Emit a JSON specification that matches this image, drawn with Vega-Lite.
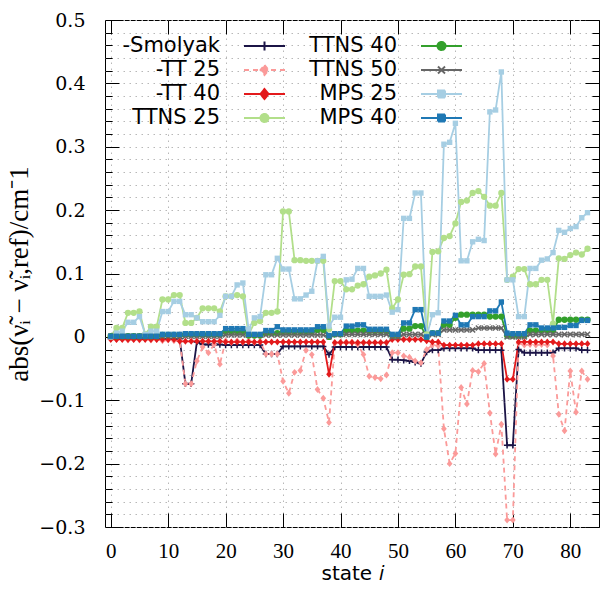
{
  "$schema": "https://vega.github.io/schema/vega-lite/v6.json",
  "width": 494,
  "height": 507,
  "autosize": {"type": "none"},
  "padding": {"left": 105, "top": 20, "right": 1, "bottom": 66},
  "background": "white",
  "config": {
    "view": {"stroke": "black", "strokeWidth": 1},
    "axis": {"domain": false, "labelFont": "Liberation Serif", "labelFontSize": 21, "labelColor": "black", "tickColor": "black", "tickWidth": 1, "gridColor": "#b8b8b8", "gridDash": [1.5, 4.5], "gridWidth": 1, "titleColor": "black", "titleFontWeight": "normal"}
  },
  "data": {"values": [
{"s":"Smolyak","i":0,"v":-0.003},{"s":"Smolyak","i":1,"v":-0.003},{"s":"Smolyak","i":2,"v":-0.003},{"s":"Smolyak","i":3,"v":-0.003},{"s":"Smolyak","i":4,"v":-0.003},{"s":"Smolyak","i":5,"v":-0.003},{"s":"Smolyak","i":6,"v":-0.003},{"s":"Smolyak","i":7,"v":-0.003},{"s":"Smolyak","i":8,"v":-0.003},{"s":"Smolyak","i":9,"v":-0.003},{"s":"Smolyak","i":10,"v":-0.003},{"s":"Smolyak","i":11,"v":-0.003},{"s":"Smolyak","i":12,"v":-0.003},{"s":"Smolyak","i":13,"v":-0.074},{"s":"Smolyak","i":14,"v":-0.074},{"s":"Smolyak","i":15,"v":-0.008},{"s":"Smolyak","i":16,"v":-0.012},{"s":"Smolyak","i":17,"v":-0.012},{"s":"Smolyak","i":18,"v":-0.012},{"s":"Smolyak","i":19,"v":-0.012},{"s":"Smolyak","i":20,"v":-0.013},{"s":"Smolyak","i":21,"v":-0.013},{"s":"Smolyak","i":22,"v":-0.013},{"s":"Smolyak","i":23,"v":-0.013},{"s":"Smolyak","i":24,"v":-0.013},{"s":"Smolyak","i":25,"v":-0.013},{"s":"Smolyak","i":26,"v":-0.013},{"s":"Smolyak","i":27,"v":-0.027},{"s":"Smolyak","i":28,"v":-0.027},{"s":"Smolyak","i":29,"v":-0.027},{"s":"Smolyak","i":30,"v":-0.015},{"s":"Smolyak","i":31,"v":-0.015},{"s":"Smolyak","i":32,"v":-0.015},{"s":"Smolyak","i":33,"v":-0.015},{"s":"Smolyak","i":34,"v":-0.015},{"s":"Smolyak","i":35,"v":-0.015},{"s":"Smolyak","i":36,"v":-0.015},{"s":"Smolyak","i":37,"v":-0.015},{"s":"Smolyak","i":38,"v":-0.028},{"s":"Smolyak","i":39,"v":-0.016},{"s":"Smolyak","i":40,"v":-0.016},{"s":"Smolyak","i":41,"v":-0.016},{"s":"Smolyak","i":42,"v":-0.016},{"s":"Smolyak","i":43,"v":-0.016},{"s":"Smolyak","i":44,"v":-0.016},{"s":"Smolyak","i":45,"v":-0.016},{"s":"Smolyak","i":46,"v":-0.016},{"s":"Smolyak","i":47,"v":-0.016},{"s":"Smolyak","i":48,"v":-0.016},{"s":"Smolyak","i":49,"v":-0.036},{"s":"Smolyak","i":50,"v":-0.036},{"s":"Smolyak","i":51,"v":-0.037},{"s":"Smolyak","i":52,"v":-0.038},{"s":"Smolyak","i":53,"v":-0.04},{"s":"Smolyak","i":54,"v":-0.042},{"s":"Smolyak","i":55,"v":-0.024},{"s":"Smolyak","i":56,"v":-0.021},{"s":"Smolyak","i":57,"v":-0.021},{"s":"Smolyak","i":58,"v":-0.018},{"s":"Smolyak","i":59,"v":-0.018},{"s":"Smolyak","i":60,"v":-0.018},{"s":"Smolyak","i":61,"v":-0.018},{"s":"Smolyak","i":62,"v":-0.018},{"s":"Smolyak","i":63,"v":-0.018},{"s":"Smolyak","i":64,"v":-0.021},{"s":"Smolyak","i":65,"v":-0.021},{"s":"Smolyak","i":66,"v":-0.021},{"s":"Smolyak","i":67,"v":-0.021},{"s":"Smolyak","i":68,"v":-0.021},{"s":"Smolyak","i":69,"v":-0.171},{"s":"Smolyak","i":70,"v":-0.171},{"s":"Smolyak","i":71,"v":-0.02},{"s":"Smolyak","i":72,"v":-0.025},{"s":"Smolyak","i":73,"v":-0.025},{"s":"Smolyak","i":74,"v":-0.025},{"s":"Smolyak","i":75,"v":-0.025},{"s":"Smolyak","i":76,"v":-0.025},{"s":"Smolyak","i":77,"v":-0.025},{"s":"Smolyak","i":78,"v":-0.018},{"s":"Smolyak","i":79,"v":-0.018},{"s":"Smolyak","i":80,"v":-0.018},{"s":"Smolyak","i":81,"v":-0.018},{"s":"Smolyak","i":82,"v":-0.021},{"s":"Smolyak","i":83,"v":-0.021},
{"s":"TT 25","i":0,"v":-0.002},{"s":"TT 25","i":1,"v":-0.004},{"s":"TT 25","i":2,"v":-0.003},{"s":"TT 25","i":3,"v":-0.005},{"s":"TT 25","i":4,"v":-0.004},{"s":"TT 25","i":5,"v":-0.005},{"s":"TT 25","i":6,"v":-0.003},{"s":"TT 25","i":7,"v":-0.005},{"s":"TT 25","i":8,"v":-0.004},{"s":"TT 25","i":9,"v":-0.006},{"s":"TT 25","i":10,"v":-0.005},{"s":"TT 25","i":11,"v":-0.006},{"s":"TT 25","i":12,"v":-0.006},{"s":"TT 25","i":13,"v":-0.074},{"s":"TT 25","i":14,"v":-0.074},{"s":"TT 25","i":15,"v":-0.038},{"s":"TT 25","i":16,"v":-0.016},{"s":"TT 25","i":17,"v":-0.025},{"s":"TT 25","i":18,"v":-0.012},{"s":"TT 25","i":19,"v":-0.043},{"s":"TT 25","i":20,"v":-0.006},{"s":"TT 25","i":21,"v":-0.009},{"s":"TT 25","i":22,"v":-0.006},{"s":"TT 25","i":23,"v":-0.009},{"s":"TT 25","i":24,"v":-0.006},{"s":"TT 25","i":25,"v":-0.009},{"s":"TT 25","i":26,"v":-0.007},{"s":"TT 25","i":27,"v":-0.027},{"s":"TT 25","i":28,"v":-0.027},{"s":"TT 25","i":29,"v":-0.027},{"s":"TT 25","i":30,"v":-0.07},{"s":"TT 25","i":31,"v":-0.089},{"s":"TT 25","i":32,"v":-0.056},{"s":"TT 25","i":33,"v":-0.053},{"s":"TT 25","i":34,"v":-0.021},{"s":"TT 25","i":35,"v":-0.028},{"s":"TT 25","i":36,"v":-0.083},{"s":"TT 25","i":37,"v":-0.097},{"s":"TT 25","i":38,"v":-0.135},{"s":"TT 25","i":39,"v":-0.01},{"s":"TT 25","i":40,"v":-0.008},{"s":"TT 25","i":41,"v":-0.008},{"s":"TT 25","i":42,"v":-0.008},{"s":"TT 25","i":43,"v":-0.012},{"s":"TT 25","i":44,"v":-0.028},{"s":"TT 25","i":45,"v":-0.062},{"s":"TT 25","i":46,"v":-0.064},{"s":"TT 25","i":47,"v":-0.066},{"s":"TT 25","i":48,"v":-0.06},{"s":"TT 25","i":49,"v":-0.025},{"s":"TT 25","i":50,"v":-0.025},{"s":"TT 25","i":51,"v":-0.03},{"s":"TT 25","i":52,"v":-0.032},{"s":"TT 25","i":53,"v":-0.038},{"s":"TT 25","i":54,"v":-0.041},{"s":"TT 25","i":55,"v":-0.02},{"s":"TT 25","i":56,"v":-0.013},{"s":"TT 25","i":57,"v":-0.014},{"s":"TT 25","i":58,"v":-0.145},{"s":"TT 25","i":59,"v":-0.2},{"s":"TT 25","i":60,"v":-0.184},{"s":"TT 25","i":61,"v":-0.08},{"s":"TT 25","i":62,"v":-0.106},{"s":"TT 25","i":63,"v":-0.053},{"s":"TT 25","i":64,"v":-0.055},{"s":"TT 25","i":65,"v":-0.042},{"s":"TT 25","i":66,"v":-0.12},{"s":"TT 25","i":67,"v":-0.185},{"s":"TT 25","i":68,"v":-0.138},{"s":"TT 25","i":69,"v":-0.289},{"s":"TT 25","i":70,"v":-0.289},{"s":"TT 25","i":71,"v":-0.01},{"s":"TT 25","i":72,"v":-0.013},{"s":"TT 25","i":73,"v":-0.012},{"s":"TT 25","i":74,"v":-0.013},{"s":"TT 25","i":75,"v":-0.012},{"s":"TT 25","i":76,"v":-0.013},{"s":"TT 25","i":77,"v":-0.03},{"s":"TT 25","i":78,"v":-0.122},{"s":"TT 25","i":79,"v":-0.148},{"s":"TT 25","i":80,"v":-0.054},{"s":"TT 25","i":81,"v":-0.119},{"s":"TT 25","i":82,"v":-0.054},{"s":"TT 25","i":83,"v":-0.067},
{"s":"TT 40","i":0,"v":-0.004},{"s":"TT 40","i":1,"v":-0.004},{"s":"TT 40","i":2,"v":-0.004},{"s":"TT 40","i":3,"v":-0.004},{"s":"TT 40","i":4,"v":-0.004},{"s":"TT 40","i":5,"v":-0.004},{"s":"TT 40","i":6,"v":-0.004},{"s":"TT 40","i":7,"v":-0.004},{"s":"TT 40","i":8,"v":-0.004},{"s":"TT 40","i":9,"v":-0.004},{"s":"TT 40","i":10,"v":-0.004},{"s":"TT 40","i":11,"v":-0.004},{"s":"TT 40","i":12,"v":-0.007},{"s":"TT 40","i":13,"v":-0.007},{"s":"TT 40","i":14,"v":-0.007},{"s":"TT 40","i":15,"v":-0.007},{"s":"TT 40","i":16,"v":-0.007},{"s":"TT 40","i":17,"v":-0.007},{"s":"TT 40","i":18,"v":-0.007},{"s":"TT 40","i":19,"v":-0.007},{"s":"TT 40","i":20,"v":-0.008},{"s":"TT 40","i":21,"v":-0.008},{"s":"TT 40","i":22,"v":-0.008},{"s":"TT 40","i":23,"v":-0.008},{"s":"TT 40","i":24,"v":-0.008},{"s":"TT 40","i":25,"v":-0.008},{"s":"TT 40","i":26,"v":-0.008},{"s":"TT 40","i":27,"v":-0.008},{"s":"TT 40","i":28,"v":-0.008},{"s":"TT 40","i":29,"v":-0.008},{"s":"TT 40","i":30,"v":-0.008},{"s":"TT 40","i":31,"v":-0.008},{"s":"TT 40","i":32,"v":-0.008},{"s":"TT 40","i":33,"v":-0.008},{"s":"TT 40","i":34,"v":-0.008},{"s":"TT 40","i":35,"v":-0.008},{"s":"TT 40","i":36,"v":-0.008},{"s":"TT 40","i":37,"v":-0.008},{"s":"TT 40","i":38,"v":-0.059},{"s":"TT 40","i":39,"v":-0.009},{"s":"TT 40","i":40,"v":-0.009},{"s":"TT 40","i":41,"v":-0.009},{"s":"TT 40","i":42,"v":-0.009},{"s":"TT 40","i":43,"v":-0.009},{"s":"TT 40","i":44,"v":-0.009},{"s":"TT 40","i":45,"v":-0.009},{"s":"TT 40","i":46,"v":-0.009},{"s":"TT 40","i":47,"v":-0.009},{"s":"TT 40","i":48,"v":-0.009},{"s":"TT 40","i":49,"v":-0.004},{"s":"TT 40","i":50,"v":-0.004},{"s":"TT 40","i":51,"v":-0.004},{"s":"TT 40","i":52,"v":-0.004},{"s":"TT 40","i":53,"v":-0.004},{"s":"TT 40","i":54,"v":-0.004},{"s":"TT 40","i":55,"v":-0.006},{"s":"TT 40","i":56,"v":-0.008},{"s":"TT 40","i":57,"v":-0.008},{"s":"TT 40","i":58,"v":-0.013},{"s":"TT 40","i":59,"v":-0.013},{"s":"TT 40","i":60,"v":-0.013},{"s":"TT 40","i":61,"v":-0.013},{"s":"TT 40","i":62,"v":-0.013},{"s":"TT 40","i":63,"v":-0.013},{"s":"TT 40","i":64,"v":-0.011},{"s":"TT 40","i":65,"v":-0.011},{"s":"TT 40","i":66,"v":-0.011},{"s":"TT 40","i":67,"v":-0.011},{"s":"TT 40","i":68,"v":-0.011},{"s":"TT 40","i":69,"v":-0.067},{"s":"TT 40","i":70,"v":-0.067},{"s":"TT 40","i":71,"v":-0.008},{"s":"TT 40","i":72,"v":-0.008},{"s":"TT 40","i":73,"v":-0.008},{"s":"TT 40","i":74,"v":-0.008},{"s":"TT 40","i":75,"v":-0.008},{"s":"TT 40","i":76,"v":-0.008},{"s":"TT 40","i":77,"v":-0.008},{"s":"TT 40","i":78,"v":-0.011},{"s":"TT 40","i":79,"v":-0.011},{"s":"TT 40","i":80,"v":-0.011},{"s":"TT 40","i":81,"v":-0.011},{"s":"TT 40","i":82,"v":-0.011},{"s":"TT 40","i":83,"v":-0.011},
{"s":"TTNS 25","i":0,"v":0.001},{"s":"TTNS 25","i":1,"v":0.014},{"s":"TTNS 25","i":2,"v":0.014},{"s":"TTNS 25","i":3,"v":0.038},{"s":"TTNS 25","i":4,"v":0.038},{"s":"TTNS 25","i":5,"v":0.04},{"s":"TTNS 25","i":6,"v":0.004},{"s":"TTNS 25","i":7,"v":0.016},{"s":"TTNS 25","i":8,"v":0.016},{"s":"TTNS 25","i":9,"v":0.059},{"s":"TTNS 25","i":10,"v":0.059},{"s":"TTNS 25","i":11,"v":0.066},{"s":"TTNS 25","i":12,"v":0.066},{"s":"TTNS 25","i":13,"v":0.022},{"s":"TTNS 25","i":14,"v":0.022},{"s":"TTNS 25","i":15,"v":0.03},{"s":"TTNS 25","i":16,"v":0.045},{"s":"TTNS 25","i":17,"v":0.045},{"s":"TTNS 25","i":18,"v":0.045},{"s":"TTNS 25","i":19,"v":0.04},{"s":"TTNS 25","i":20,"v":0.064},{"s":"TTNS 25","i":21,"v":0.064},{"s":"TTNS 25","i":22,"v":0.066},{"s":"TTNS 25","i":23,"v":0.064},{"s":"TTNS 25","i":24,"v":0.004},{"s":"TTNS 25","i":25,"v":0.022},{"s":"TTNS 25","i":26,"v":0.025},{"s":"TTNS 25","i":27,"v":0.038},{"s":"TTNS 25","i":28,"v":0.038},{"s":"TTNS 25","i":29,"v":0.04},{"s":"TTNS 25","i":30,"v":0.198},{"s":"TTNS 25","i":31,"v":0.198},{"s":"TTNS 25","i":32,"v":0.121},{"s":"TTNS 25","i":33,"v":0.121},{"s":"TTNS 25","i":34,"v":0.12},{"s":"TTNS 25","i":35,"v":0.12},{"s":"TTNS 25","i":36,"v":0.12},{"s":"TTNS 25","i":37,"v":0.12},{"s":"TTNS 25","i":38,"v":0.012},{"s":"TTNS 25","i":39,"v":0.088},{"s":"TTNS 25","i":40,"v":0.088},{"s":"TTNS 25","i":41,"v":0.075},{"s":"TTNS 25","i":42,"v":0.075},{"s":"TTNS 25","i":43,"v":0.081},{"s":"TTNS 25","i":44,"v":0.083},{"s":"TTNS 25","i":45,"v":0.095},{"s":"TTNS 25","i":46,"v":0.097},{"s":"TTNS 25","i":47,"v":0.1},{"s":"TTNS 25","i":48,"v":0.106},{"s":"TTNS 25","i":49,"v":0.045},{"s":"TTNS 25","i":50,"v":0.059},{"s":"TTNS 25","i":51,"v":0.098},{"s":"TTNS 25","i":52,"v":0.099},{"s":"TTNS 25","i":53,"v":0.111},{"s":"TTNS 25","i":54,"v":0.111},{"s":"TTNS 25","i":55,"v":0.004},{"s":"TTNS 25","i":56,"v":0.134},{"s":"TTNS 25","i":57,"v":0.135},{"s":"TTNS 25","i":58,"v":0.156},{"s":"TTNS 25","i":59,"v":0.159},{"s":"TTNS 25","i":60,"v":0.179},{"s":"TTNS 25","i":61,"v":0.213},{"s":"TTNS 25","i":62,"v":0.215},{"s":"TTNS 25","i":63,"v":0.227},{"s":"TTNS 25","i":64,"v":0.23},{"s":"TTNS 25","i":65,"v":0.221},{"s":"TTNS 25","i":66,"v":0.207},{"s":"TTNS 25","i":67,"v":0.207},{"s":"TTNS 25","i":68,"v":0.227},{"s":"TTNS 25","i":69,"v":0.09},{"s":"TTNS 25","i":70,"v":0.095},{"s":"TTNS 25","i":71,"v":0.107},{"s":"TTNS 25","i":72,"v":0.107},{"s":"TTNS 25","i":73,"v":0.083},{"s":"TTNS 25","i":74,"v":0.083},{"s":"TTNS 25","i":75,"v":0.09},{"s":"TTNS 25","i":76,"v":0.09},{"s":"TTNS 25","i":77,"v":0.021},{"s":"TTNS 25","i":78,"v":0.124},{"s":"TTNS 25","i":79,"v":0.123},{"s":"TTNS 25","i":80,"v":0.129},{"s":"TTNS 25","i":81,"v":0.133},{"s":"TTNS 25","i":82,"v":0.13},{"s":"TTNS 25","i":83,"v":0.139},
{"s":"TTNS 40","i":0,"v":0.001},{"s":"TTNS 40","i":1,"v":0.001},{"s":"TTNS 40","i":2,"v":0.001},{"s":"TTNS 40","i":3,"v":0.001},{"s":"TTNS 40","i":4,"v":0.001},{"s":"TTNS 40","i":5,"v":0.001},{"s":"TTNS 40","i":6,"v":0.001},{"s":"TTNS 40","i":7,"v":0.001},{"s":"TTNS 40","i":8,"v":0.001},{"s":"TTNS 40","i":9,"v":0.003},{"s":"TTNS 40","i":10,"v":0.003},{"s":"TTNS 40","i":11,"v":0.003},{"s":"TTNS 40","i":12,"v":0.003},{"s":"TTNS 40","i":13,"v":0.004},{"s":"TTNS 40","i":14,"v":0.004},{"s":"TTNS 40","i":15,"v":0.004},{"s":"TTNS 40","i":16,"v":0.004},{"s":"TTNS 40","i":17,"v":0.004},{"s":"TTNS 40","i":18,"v":0.004},{"s":"TTNS 40","i":19,"v":0.004},{"s":"TTNS 40","i":20,"v":0.008},{"s":"TTNS 40","i":21,"v":0.008},{"s":"TTNS 40","i":22,"v":0.008},{"s":"TTNS 40","i":23,"v":0.008},{"s":"TTNS 40","i":24,"v":0.002},{"s":"TTNS 40","i":25,"v":0.002},{"s":"TTNS 40","i":26,"v":0.002},{"s":"TTNS 40","i":27,"v":0.006},{"s":"TTNS 40","i":28,"v":0.006},{"s":"TTNS 40","i":29,"v":0.006},{"s":"TTNS 40","i":30,"v":0.008},{"s":"TTNS 40","i":31,"v":0.008},{"s":"TTNS 40","i":32,"v":0.008},{"s":"TTNS 40","i":33,"v":0.008},{"s":"TTNS 40","i":34,"v":0.008},{"s":"TTNS 40","i":35,"v":0.008},{"s":"TTNS 40","i":36,"v":0.011},{"s":"TTNS 40","i":37,"v":0.011},{"s":"TTNS 40","i":38,"v":0.0},{"s":"TTNS 40","i":39,"v":0.004},{"s":"TTNS 40","i":40,"v":0.004},{"s":"TTNS 40","i":41,"v":0.01},{"s":"TTNS 40","i":42,"v":0.01},{"s":"TTNS 40","i":43,"v":0.01},{"s":"TTNS 40","i":44,"v":0.01},{"s":"TTNS 40","i":45,"v":0.009},{"s":"TTNS 40","i":46,"v":0.009},{"s":"TTNS 40","i":47,"v":0.009},{"s":"TTNS 40","i":48,"v":0.009},{"s":"TTNS 40","i":49,"v":0.002},{"s":"TTNS 40","i":50,"v":0.002},{"s":"TTNS 40","i":51,"v":0.013},{"s":"TTNS 40","i":52,"v":0.013},{"s":"TTNS 40","i":53,"v":0.017},{"s":"TTNS 40","i":54,"v":0.017},{"s":"TTNS 40","i":55,"v":0.0},{"s":"TTNS 40","i":56,"v":0.006},{"s":"TTNS 40","i":57,"v":0.006},{"s":"TTNS 40","i":58,"v":0.019},{"s":"TTNS 40","i":59,"v":0.019},{"s":"TTNS 40","i":60,"v":0.03},{"s":"TTNS 40","i":61,"v":0.035},{"s":"TTNS 40","i":62,"v":0.035},{"s":"TTNS 40","i":63,"v":0.035},{"s":"TTNS 40","i":64,"v":0.035},{"s":"TTNS 40","i":65,"v":0.035},{"s":"TTNS 40","i":66,"v":0.032},{"s":"TTNS 40","i":67,"v":0.032},{"s":"TTNS 40","i":68,"v":0.032},{"s":"TTNS 40","i":69,"v":0.002},{"s":"TTNS 40","i":70,"v":0.002},{"s":"TTNS 40","i":71,"v":0.002},{"s":"TTNS 40","i":72,"v":0.002},{"s":"TTNS 40","i":73,"v":0.01},{"s":"TTNS 40","i":74,"v":0.01},{"s":"TTNS 40","i":75,"v":0.01},{"s":"TTNS 40","i":76,"v":0.01},{"s":"TTNS 40","i":77,"v":0.01},{"s":"TTNS 40","i":78,"v":0.027},{"s":"TTNS 40","i":79,"v":0.027},{"s":"TTNS 40","i":80,"v":0.027},{"s":"TTNS 40","i":81,"v":0.027},{"s":"TTNS 40","i":82,"v":0.027},{"s":"TTNS 40","i":83,"v":0.027},
{"s":"TTNS 50","i":0,"v":0.001},{"s":"TTNS 50","i":1,"v":0.001},{"s":"TTNS 50","i":2,"v":0.001},{"s":"TTNS 50","i":3,"v":0.001},{"s":"TTNS 50","i":4,"v":0.001},{"s":"TTNS 50","i":5,"v":0.001},{"s":"TTNS 50","i":6,"v":0.001},{"s":"TTNS 50","i":7,"v":0.001},{"s":"TTNS 50","i":8,"v":0.001},{"s":"TTNS 50","i":9,"v":0.001},{"s":"TTNS 50","i":10,"v":0.001},{"s":"TTNS 50","i":11,"v":0.001},{"s":"TTNS 50","i":12,"v":0.001},{"s":"TTNS 50","i":13,"v":0.001},{"s":"TTNS 50","i":14,"v":0.001},{"s":"TTNS 50","i":15,"v":0.001},{"s":"TTNS 50","i":16,"v":0.001},{"s":"TTNS 50","i":17,"v":0.001},{"s":"TTNS 50","i":18,"v":0.001},{"s":"TTNS 50","i":19,"v":0.001},{"s":"TTNS 50","i":20,"v":0.003},{"s":"TTNS 50","i":21,"v":0.003},{"s":"TTNS 50","i":22,"v":0.003},{"s":"TTNS 50","i":23,"v":0.003},{"s":"TTNS 50","i":24,"v":0.003},{"s":"TTNS 50","i":25,"v":0.003},{"s":"TTNS 50","i":26,"v":0.003},{"s":"TTNS 50","i":27,"v":0.003},{"s":"TTNS 50","i":28,"v":0.003},{"s":"TTNS 50","i":29,"v":0.003},{"s":"TTNS 50","i":30,"v":0.003},{"s":"TTNS 50","i":31,"v":0.003},{"s":"TTNS 50","i":32,"v":0.003},{"s":"TTNS 50","i":33,"v":0.003},{"s":"TTNS 50","i":34,"v":0.003},{"s":"TTNS 50","i":35,"v":0.003},{"s":"TTNS 50","i":36,"v":0.003},{"s":"TTNS 50","i":37,"v":0.003},{"s":"TTNS 50","i":38,"v":0.0},{"s":"TTNS 50","i":39,"v":0.004},{"s":"TTNS 50","i":40,"v":0.004},{"s":"TTNS 50","i":41,"v":0.004},{"s":"TTNS 50","i":42,"v":0.004},{"s":"TTNS 50","i":43,"v":0.004},{"s":"TTNS 50","i":44,"v":0.004},{"s":"TTNS 50","i":45,"v":0.004},{"s":"TTNS 50","i":46,"v":0.004},{"s":"TTNS 50","i":47,"v":0.004},{"s":"TTNS 50","i":48,"v":0.004},{"s":"TTNS 50","i":49,"v":0.0},{"s":"TTNS 50","i":50,"v":0.0},{"s":"TTNS 50","i":51,"v":0.004},{"s":"TTNS 50","i":52,"v":0.004},{"s":"TTNS 50","i":53,"v":0.004},{"s":"TTNS 50","i":54,"v":0.004},{"s":"TTNS 50","i":55,"v":0.0},{"s":"TTNS 50","i":56,"v":0.004},{"s":"TTNS 50","i":57,"v":0.004},{"s":"TTNS 50","i":58,"v":0.011},{"s":"TTNS 50","i":59,"v":0.011},{"s":"TTNS 50","i":60,"v":0.011},{"s":"TTNS 50","i":61,"v":0.011},{"s":"TTNS 50","i":62,"v":0.011},{"s":"TTNS 50","i":63,"v":0.011},{"s":"TTNS 50","i":64,"v":0.014},{"s":"TTNS 50","i":65,"v":0.014},{"s":"TTNS 50","i":66,"v":0.014},{"s":"TTNS 50","i":67,"v":0.014},{"s":"TTNS 50","i":68,"v":0.014},{"s":"TTNS 50","i":69,"v":0.0},{"s":"TTNS 50","i":70,"v":0.0},{"s":"TTNS 50","i":71,"v":0.0},{"s":"TTNS 50","i":72,"v":0.0},{"s":"TTNS 50","i":73,"v":0.004},{"s":"TTNS 50","i":74,"v":0.004},{"s":"TTNS 50","i":75,"v":0.004},{"s":"TTNS 50","i":76,"v":0.004},{"s":"TTNS 50","i":77,"v":0.004},{"s":"TTNS 50","i":78,"v":0.004},{"s":"TTNS 50","i":79,"v":0.004},{"s":"TTNS 50","i":80,"v":0.004},{"s":"TTNS 50","i":81,"v":0.004},{"s":"TTNS 50","i":82,"v":0.004},{"s":"TTNS 50","i":83,"v":0.004},
{"s":"MPS 25","i":0,"v":0.0},{"s":"MPS 25","i":1,"v":0.006},{"s":"MPS 25","i":2,"v":0.009},{"s":"MPS 25","i":3,"v":0.023},{"s":"MPS 25","i":4,"v":0.023},{"s":"MPS 25","i":5,"v":0.032},{"s":"MPS 25","i":6,"v":0.004},{"s":"MPS 25","i":7,"v":0.009},{"s":"MPS 25","i":8,"v":0.009},{"s":"MPS 25","i":9,"v":0.04},{"s":"MPS 25","i":10,"v":0.04},{"s":"MPS 25","i":11,"v":0.056},{"s":"MPS 25","i":12,"v":0.056},{"s":"MPS 25","i":13,"v":0.035},{"s":"MPS 25","i":14,"v":0.035},{"s":"MPS 25","i":15,"v":0.03},{"s":"MPS 25","i":16,"v":0.024},{"s":"MPS 25","i":17,"v":0.024},{"s":"MPS 25","i":18,"v":0.024},{"s":"MPS 25","i":19,"v":0.034},{"s":"MPS 25","i":20,"v":0.064},{"s":"MPS 25","i":21,"v":0.064},{"s":"MPS 25","i":22,"v":0.082},{"s":"MPS 25","i":23,"v":0.085},{"s":"MPS 25","i":24,"v":0.012},{"s":"MPS 25","i":25,"v":0.03},{"s":"MPS 25","i":26,"v":0.032},{"s":"MPS 25","i":27,"v":0.098},{"s":"MPS 25","i":28,"v":0.098},{"s":"MPS 25","i":29,"v":0.124},{"s":"MPS 25","i":30,"v":0.107},{"s":"MPS 25","i":31,"v":0.107},{"s":"MPS 25","i":32,"v":0.06},{"s":"MPS 25","i":33,"v":0.06},{"s":"MPS 25","i":34,"v":0.066},{"s":"MPS 25","i":35,"v":0.072},{"s":"MPS 25","i":36,"v":0.12},{"s":"MPS 25","i":37,"v":0.127},{"s":"MPS 25","i":38,"v":0.017},{"s":"MPS 25","i":39,"v":0.031},{"s":"MPS 25","i":40,"v":0.031},{"s":"MPS 25","i":41,"v":0.09},{"s":"MPS 25","i":42,"v":0.091},{"s":"MPS 25","i":43,"v":0.108},{"s":"MPS 25","i":44,"v":0.108},{"s":"MPS 25","i":45,"v":0.064},{"s":"MPS 25","i":46,"v":0.064},{"s":"MPS 25","i":47,"v":0.064},{"s":"MPS 25","i":48,"v":0.066},{"s":"MPS 25","i":49,"v":0.039},{"s":"MPS 25","i":50,"v":0.043},{"s":"MPS 25","i":51,"v":0.187},{"s":"MPS 25","i":52,"v":0.187},{"s":"MPS 25","i":53,"v":0.227},{"s":"MPS 25","i":54,"v":0.227},{"s":"MPS 25","i":55,"v":0.001},{"s":"MPS 25","i":56,"v":0.035},{"s":"MPS 25","i":57,"v":0.038},{"s":"MPS 25","i":58,"v":0.304},{"s":"MPS 25","i":59,"v":0.307},{"s":"MPS 25","i":60,"v":0.337},{"s":"MPS 25","i":61,"v":0.12},{"s":"MPS 25","i":62,"v":0.12},{"s":"MPS 25","i":63,"v":0.15},{"s":"MPS 25","i":64,"v":0.154},{"s":"MPS 25","i":65,"v":0.152},{"s":"MPS 25","i":66,"v":0.355},{"s":"MPS 25","i":67,"v":0.358},{"s":"MPS 25","i":68,"v":0.418},{"s":"MPS 25","i":69,"v":0.09},{"s":"MPS 25","i":70,"v":0.09},{"s":"MPS 25","i":71,"v":0.032},{"s":"MPS 25","i":72,"v":0.032},{"s":"MPS 25","i":73,"v":0.108},{"s":"MPS 25","i":74,"v":0.108},{"s":"MPS 25","i":75,"v":0.121},{"s":"MPS 25","i":76,"v":0.123},{"s":"MPS 25","i":77,"v":0.133},{"s":"MPS 25","i":78,"v":0.168},{"s":"MPS 25","i":79,"v":0.165},{"s":"MPS 25","i":80,"v":0.171},{"s":"MPS 25","i":81,"v":0.174},{"s":"MPS 25","i":82,"v":0.188},{"s":"MPS 25","i":83,"v":0.196},
{"s":"MPS 40","i":0,"v":0.001},{"s":"MPS 40","i":1,"v":0.001},{"s":"MPS 40","i":2,"v":0.001},{"s":"MPS 40","i":3,"v":0.001},{"s":"MPS 40","i":4,"v":0.001},{"s":"MPS 40","i":5,"v":0.001},{"s":"MPS 40","i":6,"v":0.001},{"s":"MPS 40","i":7,"v":0.001},{"s":"MPS 40","i":8,"v":0.001},{"s":"MPS 40","i":9,"v":0.004},{"s":"MPS 40","i":10,"v":0.004},{"s":"MPS 40","i":11,"v":0.004},{"s":"MPS 40","i":12,"v":0.004},{"s":"MPS 40","i":13,"v":0.005},{"s":"MPS 40","i":14,"v":0.005},{"s":"MPS 40","i":15,"v":0.005},{"s":"MPS 40","i":16,"v":0.005},{"s":"MPS 40","i":17,"v":0.005},{"s":"MPS 40","i":18,"v":0.005},{"s":"MPS 40","i":19,"v":0.005},{"s":"MPS 40","i":20,"v":0.013},{"s":"MPS 40","i":21,"v":0.013},{"s":"MPS 40","i":22,"v":0.013},{"s":"MPS 40","i":23,"v":0.013},{"s":"MPS 40","i":24,"v":0.004},{"s":"MPS 40","i":25,"v":0.004},{"s":"MPS 40","i":26,"v":0.004},{"s":"MPS 40","i":27,"v":0.01},{"s":"MPS 40","i":28,"v":0.01},{"s":"MPS 40","i":29,"v":0.016},{"s":"MPS 40","i":30,"v":0.011},{"s":"MPS 40","i":31,"v":0.011},{"s":"MPS 40","i":32,"v":0.011},{"s":"MPS 40","i":33,"v":0.011},{"s":"MPS 40","i":34,"v":0.011},{"s":"MPS 40","i":35,"v":0.011},{"s":"MPS 40","i":36,"v":0.016},{"s":"MPS 40","i":37,"v":0.016},{"s":"MPS 40","i":38,"v":0.002},{"s":"MPS 40","i":39,"v":0.005},{"s":"MPS 40","i":40,"v":0.005},{"s":"MPS 40","i":41,"v":0.017},{"s":"MPS 40","i":42,"v":0.017},{"s":"MPS 40","i":43,"v":0.019},{"s":"MPS 40","i":44,"v":0.019},{"s":"MPS 40","i":45,"v":0.012},{"s":"MPS 40","i":46,"v":0.012},{"s":"MPS 40","i":47,"v":0.012},{"s":"MPS 40","i":48,"v":0.012},{"s":"MPS 40","i":49,"v":0.004},{"s":"MPS 40","i":50,"v":0.004},{"s":"MPS 40","i":51,"v":0.022},{"s":"MPS 40","i":52,"v":0.022},{"s":"MPS 40","i":53,"v":0.043},{"s":"MPS 40","i":54,"v":0.043},{"s":"MPS 40","i":55,"v":0.0},{"s":"MPS 40","i":56,"v":0.006},{"s":"MPS 40","i":57,"v":0.006},{"s":"MPS 40","i":58,"v":0.025},{"s":"MPS 40","i":59,"v":0.025},{"s":"MPS 40","i":60,"v":0.034},{"s":"MPS 40","i":61,"v":0.019},{"s":"MPS 40","i":62,"v":0.019},{"s":"MPS 40","i":63,"v":0.032},{"s":"MPS 40","i":64,"v":0.032},{"s":"MPS 40","i":65,"v":0.032},{"s":"MPS 40","i":66,"v":0.041},{"s":"MPS 40","i":67,"v":0.041},{"s":"MPS 40","i":68,"v":0.055},{"s":"MPS 40","i":69,"v":0.006},{"s":"MPS 40","i":70,"v":0.005},{"s":"MPS 40","i":71,"v":0.005},{"s":"MPS 40","i":72,"v":0.005},{"s":"MPS 40","i":73,"v":0.019},{"s":"MPS 40","i":74,"v":0.019},{"s":"MPS 40","i":75,"v":0.014},{"s":"MPS 40","i":76,"v":0.014},{"s":"MPS 40","i":77,"v":0.014},{"s":"MPS 40","i":78,"v":0.015},{"s":"MPS 40","i":79,"v":0.015},{"s":"MPS 40","i":80,"v":0.018},{"s":"MPS 40","i":81,"v":0.018},{"s":"MPS 40","i":82,"v":0.026},{"s":"MPS 40","i":83,"v":0.026}
  ]},
  "resolve": {"axis": {"x": "independent", "y": "independent"}},
  "layer": [
    {
      "mark": {"type": "line", "strokeWidth": 1.8},
      "encoding": {
        "x": {"field": "i", "type": "quantitative", "scale": {"domain": [-1, 85], "nice": false, "zero": false},
              "axis": {"orient": "bottom", "values": [0,10,20,30,40,50,60,70,80], "ticks": false, "grid": false, "labelPadding": 13, "format": "d",
                       "title": "state 𝑖", "titleFont": "DejaVu Sans", "titleFontSize": 20, "titlePadding": 2}},
        "y": {"field": "v", "type": "quantitative", "scale": {"domain": [-0.3, 0.5], "nice": false, "zero": false},
              "axis": {"orient": "left", "values": [-0.3,-0.2,-0.1,0,0.1,0.2,0.3,0.4,0.5], "ticks": false, "grid": false, "labelPadding": 20, "format": ".1~f",
                       "labelFont": "DejaVu Serif", "labelFontSize": 19,
                       "title": "abs(ν̃ᵢ − ν̃ᵢ,ref)/cm⁻1", "titleFont": "Liberation Serif", "titleFontSize": 27, "titlePadding": 5}},
        "color": {"field": "s", "type": "nominal",
                  "scale": {"domain": ["Smolyak","TT 25","TT 40","TTNS 25","TTNS 40","TTNS 50","MPS 25","MPS 40"],
                            "range": ["#1b1446","#fb9a99","#e31a1c","#b2df8a","#33a02c","#666666","#a6cee3","#1f78b4"]},
                  "legend": {"orient": "none", "legendX": 8, "legendY": 15, "columns": 2, "title": null, "padding": 0,
                             "symbolSize": 400, "symbolStrokeWidth": 2, "labelAlign": "right", "labelOffset": 85,
                             "labelFont": "DejaVu Sans", "labelFontSize": 21, "labelColor": "black", "columnPadding": -2, "rowPadding": 3,
                             "labelExpr": "(datum.label === 'Smolyak' || datum.label === 'TT 25' || datum.label === 'TT 40') ? '-' + datum.label : datum.label",
                             "encode": {"symbols": {"update": {
                               "shape": {"signal": "datum.value === 'Smolyak' ? 'M-1,0L-1,0M12,0L16.1,0M14.05,-0.45L14.05,0.45M13.6,0L14.5,0' : (datum.value === 'TT 25' || datum.value === 'TT 40') ? 'M-1,0L-1,0M12,0L16.1,0M14.05,-0.5L14.45,0L14.05,0.5L13.65,0Z' : (datum.value === 'TTNS 25' || datum.value === 'TTNS 40') ? 'M-1,0L-1,0M12,0L16.1,0M13.65,0A0.4,0.4,0,1,0,14.45,0A0.4,0.4,0,1,0,13.65,0Z' : datum.value === 'TTNS 50' ? 'M-1,0L-1,0M12,0L16.1,0M13.7,-0.35L14.4,0.35M13.7,0.35L14.4,-0.35' : 'M-1,0L-1,0M12,0L16.1,0M13.7,-0.35L14.4,-0.35L14.4,0.35L13.7,0.35Z'"},
                               "fill": {"scale": "color", "field": "value"},
                               "stroke": {"scale": "color", "field": "value"},
                               "strokeDash": {"signal": "datum.value === 'TT 25' ? [5, 4] : [1, 0]"},
                               "strokeWidth": {"value": 2},
                               "opacity": {"value": 1}, "fillOpacity": {"value": 1}, "strokeOpacity": {"value": 1}
                             }}}}},
        "strokeDash": {"field": "s", "type": "nominal", "legend": null,
                       "scale": {"domain": ["Smolyak","TT 25","TT 40","TTNS 25","TTNS 40","TTNS 50","MPS 25","MPS 40"],
                                 "range": [[1,0],[5,4],[1,0],[1,0],[1,0],[1,0],[1,0],[1,0]]}},
        "order": {"field": "i", "type": "quantitative"}
      }
    },
    {
      "transform": [{"filter": {"field": "s", "equal": "Smolyak"}}],
      "mark": {"type": "point", "filled": false, "shape": "M-1,0L1,0M0,-1L0,1", "size": 40, "strokeWidth": 1.5, "opacity": 1},
      "encoding": {
        "x": {"field": "i", "type": "quantitative",
              "axis": {"orient": "bottom", "values": [0,10,20,30,40,50,60,70,80], "labels": false, "ticks": true, "tickSize": -14, "grid": true, "title": null}},
        "y": {"field": "v", "type": "quantitative",
              "axis": {"orient": "left", "values": [-0.3,-0.28,-0.26,-0.24,-0.22,-0.2,-0.18,-0.16,-0.14,-0.12,-0.1,-0.08,-0.06,-0.04,-0.02,0,0.02,0.04,0.06,0.08,0.1,0.12,0.14,0.16,0.18,0.2,0.22,0.24,0.26,0.28,0.3,0.32,0.34,0.36,0.38,0.4,0.42,0.44,0.46,0.48,0.5],
                       "labels": false, "ticks": true, "grid": true, "title": null,
                       "tickSize": {"condition": {"test": "abs(datum.value * 10 - round(datum.value * 10)) < 0.01", "value": -14}, "value": -7}}},
        "color": {"field": "s", "type": "nominal"}
      }
    },
    {
      "transform": [{"filter": {"field": "s", "oneOf": ["TT 25","TT 40"]}}],
      "mark": {"type": "point", "filled": true, "shape": "M0,-1.1L0.9,0L0,1.1L-0.9,0Z", "size": 40, "opacity": 1},
      "encoding": {
        "x": {"field": "i", "type": "quantitative",
              "axis": {"orient": "top", "values": [0,10,20,30,40,50,60,70,80], "labels": false, "ticks": true, "tickSize": -14, "grid": false, "title": null}},
        "y": {"field": "v", "type": "quantitative",
              "axis": {"orient": "right", "values": [-0.3,-0.28,-0.26,-0.24,-0.22,-0.2,-0.18,-0.16,-0.14,-0.12,-0.1,-0.08,-0.06,-0.04,-0.02,0,0.02,0.04,0.06,0.08,0.1,0.12,0.14,0.16,0.18,0.2,0.22,0.24,0.26,0.28,0.3,0.32,0.34,0.36,0.38,0.4,0.42,0.44,0.46,0.48,0.5],
                       "labels": false, "ticks": true, "grid": false, "title": null,
                       "tickSize": {"condition": {"test": "abs(datum.value * 10 - round(datum.value * 10)) < 0.01", "value": -14}, "value": -7}}},
        "color": {"field": "s", "type": "nominal"}
      }
    },
    {
      "transform": [{"filter": {"field": "s", "oneOf": ["TTNS 25","TTNS 40"]}}],
      "mark": {"type": "point", "filled": true, "shape": "circle", "size": 40, "opacity": 1},
      "encoding": {
        "x": {"field": "i", "type": "quantitative", "axis": null},
        "y": {"field": "v", "type": "quantitative", "axis": null},
        "color": {"field": "s", "type": "nominal"}
      }
    },
    {
      "transform": [{"filter": {"field": "s", "equal": "TTNS 50"}}],
      "mark": {"type": "point", "filled": false, "shape": "M-0.8,-0.8L0.8,0.8M-0.8,0.8L0.8,-0.8", "size": 40, "strokeWidth": 1.5, "opacity": 1},
      "encoding": {
        "x": {"field": "i", "type": "quantitative", "axis": null},
        "y": {"field": "v", "type": "quantitative", "axis": null},
        "color": {"field": "s", "type": "nominal"}
      }
    },
    {
      "transform": [{"filter": {"field": "s", "oneOf": ["MPS 25","MPS 40"]}}],
      "mark": {"type": "point", "filled": true, "shape": "M-0.85,-0.85L0.85,-0.85L0.85,0.85L-0.85,0.85Z", "size": 40, "opacity": 1},
      "encoding": {
        "x": {"field": "i", "type": "quantitative", "axis": null},
        "y": {"field": "v", "type": "quantitative", "axis": null},
        "color": {"field": "s", "type": "nominal"}
      }
    }
  ]
}
